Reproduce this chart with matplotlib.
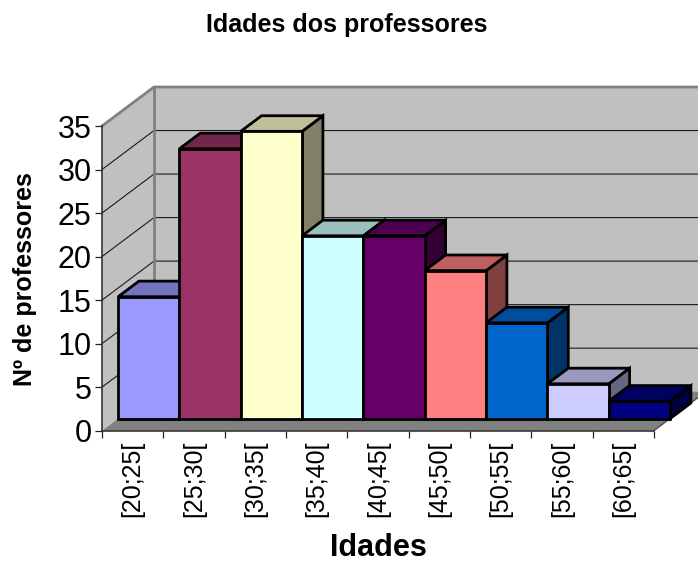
import matplotlib.pyplot as plt
from matplotlib.colors import to_rgb
from matplotlib.patches import Polygon

categories = ["[20;25[", "[25;30[", "[30;35[", "[35;40[", "[40;45[",
              "[45;50[", "[50;55[", "[55;60[", "[60;65["]
values = [14, 31, 33, 21, 21, 17, 11, 4, 2]
colors = ["#9999FF", "#993366", "#FFFFCC", "#CCFFFF", "#660066",
          "#FF8080", "#0066CC", "#CCCCFF", "#000080"]
y_ticks = [0, 5, 10, 15, 20, 25, 30, 35]

W, H = 698, 563
# front plane of the 3d box, in pixels
LEFT, RIGHT, BOTTOM, TOP = 102, 654, 430.7, 126
# full box depth, in data units
DEPTH_X = 52 / ((RIGHT - LEFT) / 9)
DEPTH_Y = 39 / ((BOTTOM - TOP) / 35)
BAR_FRONT = 0.31
BAR_BACK = 0.71


def project(x, y, d):
    return (x + d * DEPTH_X, y + d * DEPTH_Y)


def shade(color, k):
    return tuple(c * k for c in to_rgb(color))


def face(ax, points, color, edge="none", lw=0.0, z=1):
    ax.add_patch(Polygon(points, closed=True, facecolor=color, edgecolor=edge,
                         linewidth=lw, joinstyle="miter", clip_on=False, zorder=z))


def line(ax, points, color, lw, z=2):
    xs, ys = zip(*points)
    ax.plot(xs, ys, color=color, lw=lw, clip_on=False, zorder=z,
            solid_capstyle="projecting")


def main():
    fig = plt.figure(figsize=(W / 100, H / 100), dpi=100)
    plt.rcParams["font.family"] = ["Liberation Sans", "DejaVu Sans"]
    ax = fig.add_axes([LEFT / W, 1 - BOTTOM / H, (RIGHT - LEFT) / W, (BOTTOM - TOP) / H])
    ax.set_xlim(0, 9)
    ax.set_ylim(0, 35)
    ax.patch.set_visible(False)

    top_val = y_ticks[-1]
    n = len(categories)
    # side wall, back wall, floor
    face(ax, [project(0, 0, 0), project(0, 0, 1), project(0, top_val, 1), project(0, top_val, 0)], "#C0C0C0")
    face(ax, [project(0, 0, 1), project(n, 0, 1), project(n, top_val, 1), project(0, top_val, 1)], "#C0C0C0")
    face(ax, [project(0, 0, 0), project(n, 0, 0), project(n, 0, 1), project(0, 0, 1)], "#808080")

    for v in y_ticks[1:-1]:
        line(ax, [project(0, v, 0), project(0, v, 1), project(n, v, 1)], "#1a1a1a", 0.8)

    line(ax, [project(0, top_val, 0), project(0, top_val, 1), project(n, top_val, 1)], "#808080", 2.0, z=3)
    line(ax, [project(0, 0, 1), project(0, top_val, 1)], "#808080", 2.0, z=3)
    line(ax, [project(n, 0, 0), project(n, 0, 1)], "#404040", 0.8, z=3)

    for i, (v, c) in enumerate(zip(values, colors)):
        z = 5 + i
        front = [project(i, 0, BAR_FRONT), project(i + 1, 0, BAR_FRONT),
                 project(i + 1, v, BAR_FRONT), project(i, v, BAR_FRONT)]
        top = [project(i, v, BAR_FRONT), project(i + 1, v, BAR_FRONT),
               project(i + 1, v, BAR_BACK), project(i, v, BAR_BACK)]
        side = [project(i + 1, 0, BAR_FRONT), project(i + 1, 0, BAR_BACK),
                project(i + 1, v, BAR_BACK), project(i + 1, v, BAR_FRONT)]
        face(ax, side, shade(c, 0.5), "black", 2.0, z)
        face(ax, top, shade(c, 0.75), "black", 2.0, z)
        face(ax, front, c, "black", 2.0, z)

    for s in ("top", "right"):
        ax.spines[s].set_visible(False)
    for s in ("left", "bottom"):
        ax.spines[s].set_color("#333333")
        ax.spines[s].set_linewidth(1.2)
        ax.spines[s].set_zorder(4)

    ax.set_yticks(y_ticks)
    ax.tick_params(axis="y", length=5, width=0.9, color="#222222", labelsize=22, pad=2.5)
    ax.set_xticks(range(n + 1))
    ax.set_xticklabels([])
    ax.set_xticks([i + 0.5 for i in range(n)], minor=True)
    ax.set_xticklabels(categories, minor=True, rotation=90, fontsize=18)
    ax.tick_params(axis="x", which="major", length=5, width=0.9, color="#222222")
    ax.tick_params(axis="x", which="minor", length=0, pad=7)

    fig.text(346.5 / W, 1 - 25 / H, "Idades dos professores", ha="center", va="center",
             fontsize=18, fontweight="bold")
    fig.text(378 / W, 1 - 548 / H, "Idades", ha="center", va="center",
             fontsize=22, fontweight="bold")
    fig.text(25 / W, 1 - 279 / H, "Nº de professores", ha="center", va="center",
             rotation=90, fontsize=18, fontweight="bold")

    fig.savefig("out.png", dpi=100)


if __name__ == "__main__":
    main()
